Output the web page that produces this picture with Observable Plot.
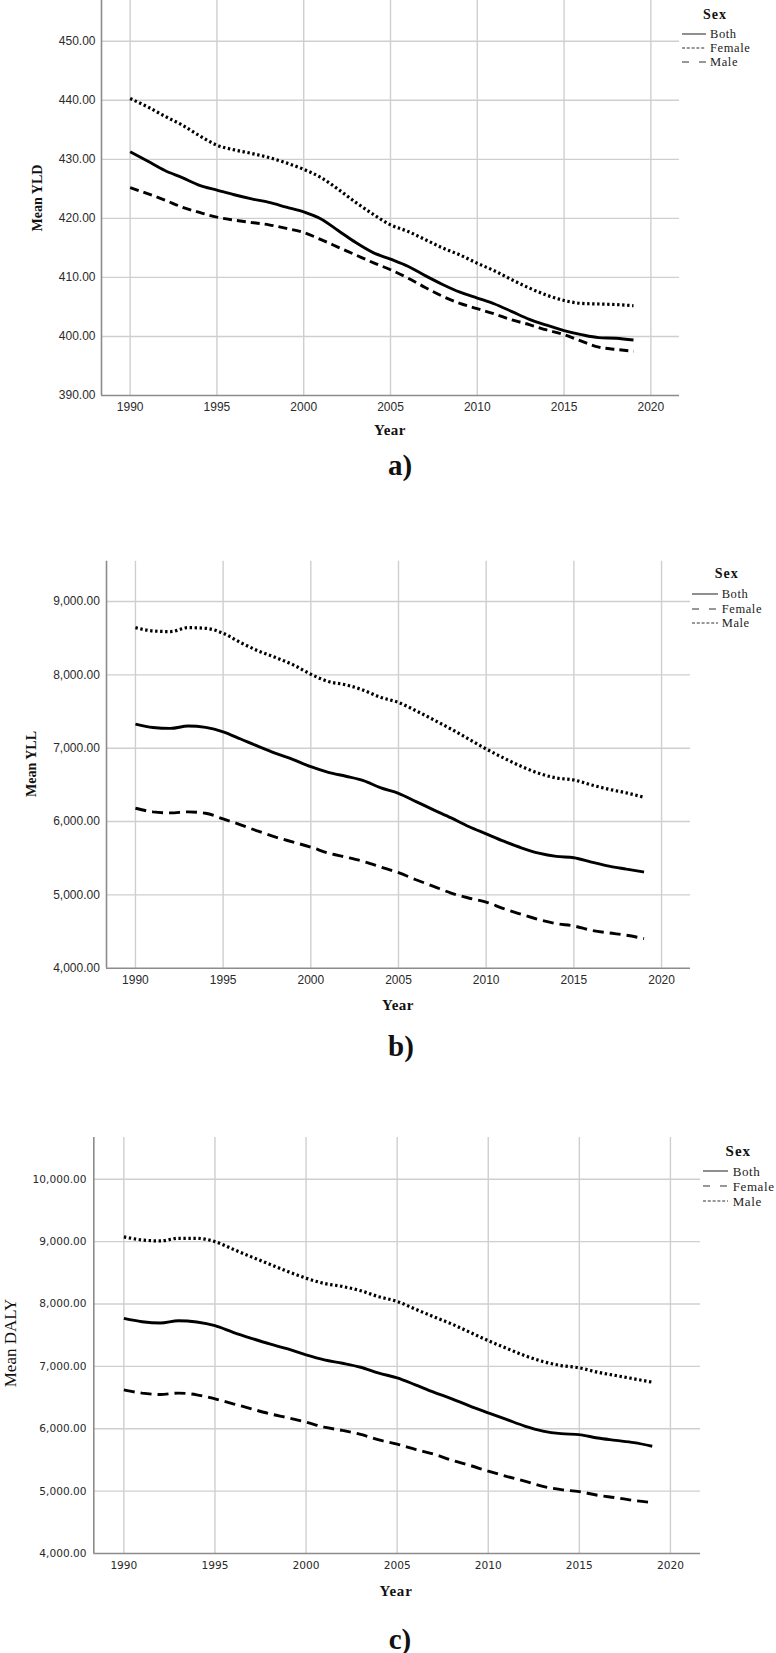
<!DOCTYPE html>
<html>
<head>
<meta charset="utf-8">
<script src="https://cdn.jsdelivr.net/npm/d3@7"></script>
<script src="https://cdn.jsdelivr.net/npm/@observablehq/plot@0.6"></script>
<style>
  html, body { margin: 0; padding: 0; background: #fff; }
  #root { position: relative; width: 776px; height: 1653px; overflow: hidden; background: #fff; }
  .abs { position: absolute; white-space: nowrap; line-height: 1; }
  .ctr { transform: translate(-50%, -50%); }
  .serif { font-family: "Liberation Serif", "Times New Roman", serif; color: #111; }
  .rot { transform: translate(-50%, -50%) rotate(-90deg); }
  .leg { font-family: "Liberation Serif", "Times New Roman", serif; color: #222; letter-spacing: 0.6px; }
</style>
</head>
<body>
<div id="root"></div>
<script>
// ---------- data ----------
const years = [1990,1991,1992,1993,1994,1995,1996,1997,1998,1999,2000,2001,2002,2003,2004,2005,2006,2007,2008,2009,2010,2011,2012,2013,2014,2015,2016,2017,2018,2019];
const xTicks = [1990,1995,2000,2005,2010,2015,2020];

// a) Mean YLD
const yldBoth   = [431.3,429.7,428.1,426.9,425.6,424.8,424.0,423.3,422.7,421.9,421.1,419.9,417.9,415.9,414.2,413.1,411.9,410.3,408.8,407.5,406.5,405.5,404.2,402.9,401.9,401.0,400.3,399.8,399.7,399.4];
const yldFemale = [440.3,438.9,437.3,435.8,434.0,432.4,431.6,431.0,430.3,429.4,428.3,426.9,424.9,422.7,420.7,418.9,417.8,416.4,415.0,413.8,412.4,411.1,409.6,408.2,407.0,406.1,405.6,405.5,405.4,405.2];
const yldMale   = [425.2,424.2,423.1,421.9,421.0,420.2,419.7,419.3,418.9,418.3,417.6,416.4,415.1,413.8,412.5,411.3,409.9,408.3,406.8,405.6,404.7,403.8,402.8,402.0,401.1,400.3,399.2,398.2,397.8,397.5];
const yldTicks  = [390,400,410,420,430,440,450];

// b) Mean YLL
const yllBoth   = [7329,7283,7270,7302,7283,7224,7125,7025,6930,6844,6748,6671,6617,6558,6458,6385,6272,6159,6050,5932,5832,5732,5642,5569,5524,5506,5447,5392,5351,5311];
const yllFemale = [6181,6132,6118,6132,6113,6036,5955,5868,5787,5719,5651,5569,5515,5456,5379,5302,5206,5116,5025,4957,4902,4812,4735,4662,4608,4576,4517,4481,4449,4404];
const yllMale   = [8644,8599,8590,8644,8635,8567,8440,8327,8236,8136,8009,7909,7864,7791,7692,7624,7510,7388,7261,7125,6989,6866,6753,6658,6594,6567,6499,6440,6390,6331];
const yllTicks  = [4000,5000,6000,7000,8000,9000];

// c) Mean DALY
const dalyBoth   = [7769,7716,7695,7732,7711,7652,7546,7450,7359,7279,7183,7103,7050,6986,6890,6816,6704,6587,6480,6363,6256,6150,6043,5963,5921,5905,5851,5814,5777,5720];
const dalyFemale = [6624,6571,6549,6571,6544,6480,6400,6320,6240,6176,6106,6026,5973,5910,5820,5754,5670,5593,5496,5412,5321,5237,5160,5076,5024,4992,4934,4895,4850,4817];
const dalyMale   = [9075,9027,9011,9053,9053,9000,8877,8755,8638,8521,8414,8329,8281,8212,8116,8041,7918,7796,7679,7546,7412,7290,7173,7077,7013,6976,6906,6853,6800,6747];
const dalyTicks  = [4000,5000,6000,7000,8000,9000,10000];

const sexLabels = ["Both", "Female", "Male"];
const panelTags = ["a)", "b)", "c)"];
const yLabels = ["Mean YLD", "Mean YLL", "Mean DALY"];
const xLabel = "Year";
const legendTitle = "Sex";

// ---------- styles ----------
const SOLID = null, DOT = "2.4,2.6";
const root = document.getElementById("root");

function div(text, cls, x, y, css) {
  const d = document.createElement("div");
  d.className = "abs " + cls;
  d.textContent = text;
  d.style.left = x + "px";
  d.style.top = y + "px";
  Object.assign(d.style, css || {});
  root.appendChild(d);
  return d;
}

function panel(cfg) {
  const rows = (vals) => years.map((yr, i) => ({year: yr, value: vals[i]}));
  const marks = [
    Plot.ruleX(xTicks, {stroke: "#cfcfcf", strokeWidth: 1.4}),
    Plot.ruleY(cfg.yTicks.slice(1), {stroke: "#cfcfcf", strokeWidth: 1.4}),
    Plot.ruleX([cfg.xDomain[0]], {stroke: "#8c8c8c", strokeWidth: 1.6}),
    Plot.ruleY([cfg.yTicks[0]], {stroke: "#8c8c8c", strokeWidth: 1.6})
  ];
  cfg.series.forEach(s => {
    marks.push(Plot.line(rows(s.values), {
      x: "year", y: "value", stroke: "#000", strokeWidth: s.dash === DOT ? 3.2 : 2.9,
      strokeDasharray: s.dash || undefined, curve: "monotone-x",
      strokeLinejoin: "miter", strokeLinecap: "butt"
    }));
  });
  const svg = Plot.plot({
    width: 776,
    height: cfg.height,
    marginTop: cfg.mTop, marginBottom: cfg.mBottom,
    marginLeft: cfg.mLeft, marginRight: cfg.mRight,
    style: {fontFamily: cfg.font, fontSize: cfg.fontSize, color: "#2a2a2a", background: "transparent", overflow: "visible"},
    x: {domain: cfg.xDomain, ticks: xTicks, tickFormat: d => String(d), tickSize: 0, tickPadding: cfg.padX, label: null},
    y: {domain: cfg.yDomain, ticks: cfg.yTicks, tickFormat: d3.format(",.2f"), tickSize: 0, tickPadding: cfg.padY, label: null},
    marks
  });
  svg.style.position = "absolute";
  svg.style.left = "0px";
  svg.style.top = cfg.top + "px";
  root.appendChild(svg);
}

function legend(lg) {
  div(legendTitle, "serif ctr", lg.titleX, lg.titleY, {fontWeight: "bold", fontSize: lg.titleSize + "px", letterSpacing: "1px"});
  lg.items.forEach((it, i) => {
    const y = lg.ys[i];
    const s = document.createElementNS("http://www.w3.org/2000/svg", "svg");
    s.setAttribute("width", lg.lineW);
    s.setAttribute("height", 6);
    s.style.position = "absolute";
    s.style.left = lg.lineX + "px";
    s.style.top = (y - 3) + "px";
    const l = document.createElementNS("http://www.w3.org/2000/svg", "line");
    l.setAttribute("x1", 0); l.setAttribute("x2", lg.lineW);
    l.setAttribute("y1", 3); l.setAttribute("y2", 3);
    l.setAttribute("stroke", "#333");
    l.setAttribute("stroke-width", 1.1);
    if (it.dash) l.setAttribute("stroke-dasharray", it.dash);
    s.appendChild(l);
    root.appendChild(s);
    div(it.label, "leg", lg.textX, y, {fontSize: lg.size + "px", transform: "translateY(-50%)"});
  });
}

const SANS = "'Liberation Sans', Arial, sans-serif";

// ---------- panel a ----------
panel({
  top: 0, height: 420, mTop: 0, mBottom: 25, mLeft: 101, mRight: 97,
  xDomain: [1988.35, 2021.65], yDomain: [390, 456.9], yTicks: yldTicks,
  padX: 6.5, padY: 6, font: SANS, fontSize: "12px",
  series: [
    {values: yldFemale, dash: DOT},
    {values: yldMale, dash: "9,5"},
    {values: yldBoth, dash: SOLID}
  ]
});
div(yLabels[0], "serif rot", 38, 197.5, {fontWeight: "bold", fontSize: "14px"});
div(xLabel, "serif ctr", 390, 430, {fontWeight: "bold", fontSize: "15px", letterSpacing: "0.5px"});
div(panelTags[0], "serif ctr", 400, 465, {fontWeight: "bold", fontSize: "29px"});
legend({
  titleX: 715, titleY: 15, titleSize: 14, size: 12.5,
  lineX: 681.5, lineW: 24.5, textX: 710,
  ys: [34, 47.7, 62],
  items: [
    {label: sexLabels[0], dash: null},
    {label: sexLabels[1], dash: "3,1.8"},
    {label: sexLabels[2], dash: "7,10"}
  ]
});

// ---------- panel b ----------
panel({
  top: 540, height: 452.7, mTop: 20.7, mBottom: 25, mLeft: 106, mRight: 86,
  xDomain: [1988.35, 2021.65], yDomain: [4000, 9550], yTicks: yllTicks,
  padX: 7.4, padY: 6.7, font: SANS, fontSize: "12px",
  series: [
    {values: yllMale, dash: DOT},
    {values: yllFemale, dash: "11,6"},
    {values: yllBoth, dash: SOLID}
  ]
});
div(yLabels[1], "serif rot", 32, 764, {fontWeight: "bold", fontSize: "14px"});
div(xLabel, "serif ctr", 398, 1005, {fontWeight: "bold", fontSize: "15px", letterSpacing: "0.5px"});
div(panelTags[1], "serif ctr", 401, 1046, {fontWeight: "bold", fontSize: "29px"});
legend({
  titleX: 726.7, titleY: 574.3, titleSize: 14, size: 12.5,
  lineX: 692, lineW: 26, textX: 721.7,
  ys: [594, 608.7, 622.7],
  items: [
    {label: sexLabels[0], dash: null},
    {label: sexLabels[1], dash: "7,10"},
    {label: sexLabels[2], dash: "3,1.8"}
  ]
});

// ---------- panel c ----------
panel({
  top: 1120, height: 458, mTop: 17, mBottom: 25, mLeft: 93.3, mRight: 76,
  xDomain: [1988.35, 2021.65], yDomain: [4000, 10669], yTicks: dalyTicks,
  padX: 7.8, padY: 7.3, font: "'DejaVu Sans', Verdana, sans-serif", fontSize: "10.6px",
  series: [
    {values: dalyMale, dash: DOT},
    {values: dalyFemale, dash: "11,6"},
    {values: dalyBoth, dash: SOLID}
  ]
});
div(yLabels[2], "serif rot", 9.5, 1343, {fontSize: "17px"});
div(xLabel, "serif ctr", 396, 1591, {fontWeight: "bold", fontSize: "15px", letterSpacing: "0.8px"});
div(panelTags[2], "serif ctr", 400, 1639, {fontWeight: "bold", fontSize: "29px"});
legend({
  titleX: 738.3, titleY: 1151, titleSize: 15, size: 13,
  lineX: 702.7, lineW: 25.5, textX: 732.7,
  ys: [1171.4, 1185.5, 1200.9],
  items: [
    {label: sexLabels[0], dash: null},
    {label: sexLabels[1], dash: "7,10"},
    {label: sexLabels[2], dash: "3,1.8"}
  ]
});
</script>
</body>
</html>
